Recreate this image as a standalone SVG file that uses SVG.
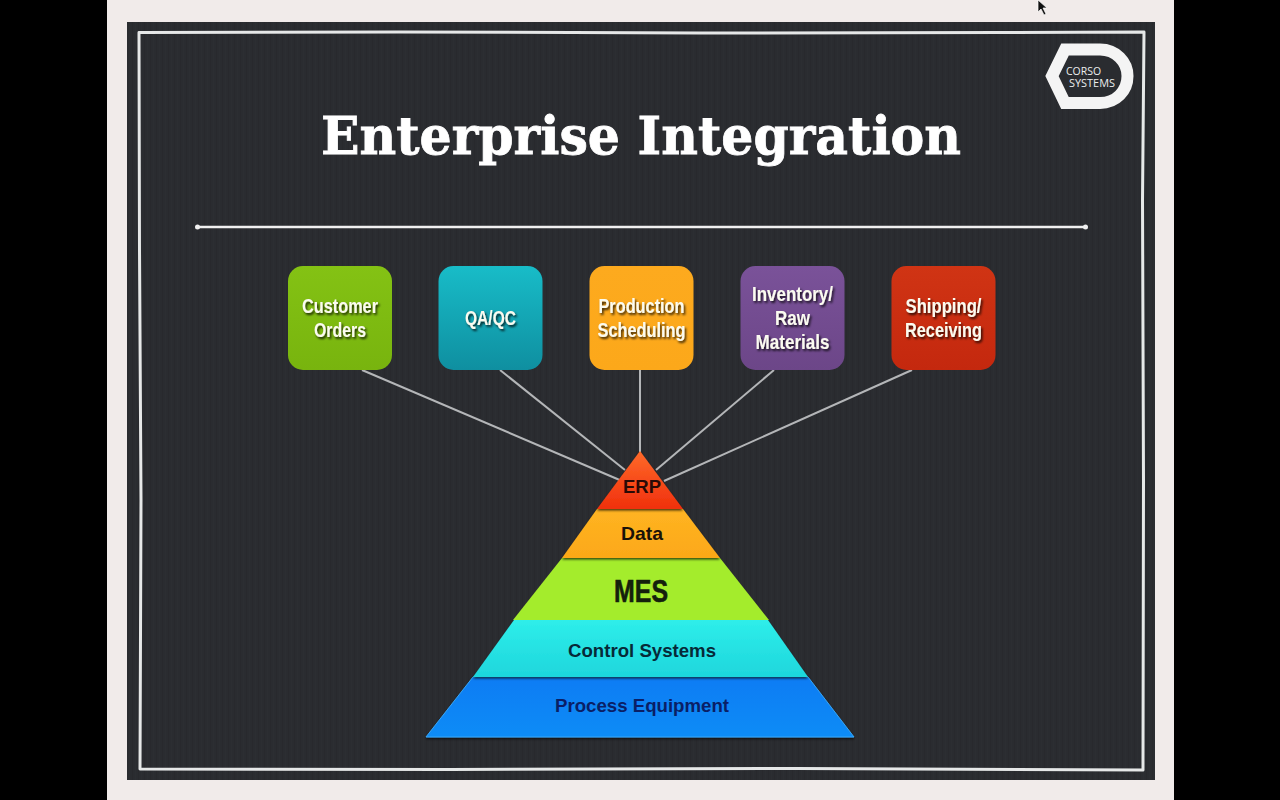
<svg xmlns="http://www.w3.org/2000/svg" width="1280" height="800" viewBox="0 0 1280 800">
<style>
.tile{stroke:none}
.lbl{font-family:"Liberation Sans",Arial,sans-serif;font-weight:700;font-size:20.5px;fill:#fbfbf0;text-anchor:middle;filter:url(#ts)}
.lay{font-family:"Liberation Sans",Arial,sans-serif;font-weight:700;text-anchor:middle}
.conn{stroke:#b4b6b8;stroke-width:2;fill:none}
</style>
<defs>
<filter id="ts" x="-20%" y="-20%" width="140%" height="150%"><feDropShadow dx="1.5" dy="2" stdDeviation="0.8" flood-color="#000" flood-opacity="0.8"/></filter>
<filter id="bs" x="-10%" y="-10%" width="120%" height="130%"><feDropShadow dx="0" dy="1.5" stdDeviation="1" flood-color="#000" flood-opacity="0.7"/></filter>
<pattern id="grain" width="6" height="6" patternUnits="userSpaceOnUse"><rect width="6" height="6" fill="#2a2c30"/><rect x="0" width="1" height="6" fill="#28292d"/><rect x="3" width="1" height="6" fill="#2c2e32"/></pattern>
<linearGradient id="g1" x1="0" y1="0" x2="0" y2="1"><stop offset="0" stop-color="#84c214"/><stop offset="1" stop-color="#78b40e"/></linearGradient>
<linearGradient id="g2" x1="0" y1="0" x2="0" y2="1"><stop offset="0" stop-color="#18bcc8"/><stop offset="1" stop-color="#0f8fa0"/></linearGradient>
<linearGradient id="g3" x1="0" y1="0" x2="0" y2="1"><stop offset="0" stop-color="#fdaa1e"/><stop offset="1" stop-color="#fca81a"/></linearGradient>
<linearGradient id="g4" x1="0" y1="0" x2="0" y2="1"><stop offset="0" stop-color="#7a5299"/><stop offset="1" stop-color="#6c4688"/></linearGradient>
<linearGradient id="g5" x1="0" y1="0" x2="0" y2="1"><stop offset="0" stop-color="#d03414"/><stop offset="1" stop-color="#c4280e"/></linearGradient>
<linearGradient id="p1" x1="0" y1="0" x2="0" y2="1"><stop offset="0" stop-color="#ff6a2a"/><stop offset="1" stop-color="#f0300c"/></linearGradient>
<linearGradient id="p2" x1="0" y1="0" x2="0" y2="1"><stop offset="0" stop-color="#ffb422"/><stop offset="1" stop-color="#fca818"/></linearGradient>
<linearGradient id="p4" x1="0" y1="0" x2="0" y2="1"><stop offset="0" stop-color="#2eeeea"/><stop offset="1" stop-color="#1ed6dc"/></linearGradient>
<linearGradient id="p5" x1="0" y1="0" x2="0" y2="1"><stop offset="0" stop-color="#0a7cf4"/><stop offset="1" stop-color="#0f8cf6"/></linearGradient>
</defs>

<rect width="1280" height="800" fill="#000"/>
<rect x="107" y="0" width="1067" height="800" fill="#f1ebea"/>
<rect x="127" y="22" width="1028" height="758" fill="url(#grain)"/>
<path d="M139 32.500L400 32L700 33L1000 32.500L1144 32L1142.500 200L1143.500 480L1143 770L800 768.500L450 769.500L140 769L141 500L139.500 250Z" fill="none" stroke="#e6e8e8" stroke-width="3" stroke-linejoin="round"/>

<text x="641" y="154" font-family="'DejaVu Serif','Liberation Serif',serif" font-weight="700" font-size="53" fill="#fff" stroke="#fff" stroke-width="0.8" text-anchor="middle" textLength="640" lengthAdjust="spacingAndGlyphs">Enterprise Integration</text>
<line x1="197" y1="227" x2="1086" y2="227" stroke="#f0f0f0" stroke-width="2.5" stroke-linecap="round"/>
<circle cx="197.500" cy="227" r="2.500" fill="#f0f0f0"/>
<circle cx="1085.500" cy="227" r="2.500" fill="#f0f0f0"/>

<g id="logo">
<path d="M1065 49.500H1100C1116 49.500 1127.500 62 1127.500 76C1127.500 91 1116 103 1100 103H1065L1052 76Z" fill="#2a2c30" stroke="#f4f4f4" stroke-width="12" stroke-linejoin="miter"/>
<text x="1066" y="74.500" font-family="'Open Sans','Liberation Sans',sans-serif" font-size="10.500" fill="#eceeee" textLength="35" lengthAdjust="spacingAndGlyphs">CORSO</text>
<text x="1069" y="86.500" font-family="'Open Sans','Liberation Sans',sans-serif" font-size="10.500" fill="#eceeee" textLength="46" lengthAdjust="spacingAndGlyphs">SYSTEMS</text>
</g>

<g id="connectors">
<line class="conn" x1="362" y1="370" x2="622" y2="481"/>
<line class="conn" x1="500" y1="370" x2="625" y2="470"/>
<line class="conn" x1="640" y1="370" x2="640" y2="452"/>
<line class="conn" x1="774" y1="370" x2="656" y2="470"/>
<line class="conn" x1="912" y1="370" x2="664" y2="481"/>
</g>

<g id="node-customer-orders">
<rect class="tile" x="288" y="266" width="104" height="104" rx="15" fill="url(#g1)"/>
<text class="lbl" x="340" y="313" textLength="76" lengthAdjust="spacingAndGlyphs">Customer</text>
<text class="lbl" x="340" y="337" textLength="52" lengthAdjust="spacingAndGlyphs">Orders</text>
</g>
<g id="node-qa-qc">
<rect class="tile" x="438.500" y="266" width="104" height="104" rx="15" fill="url(#g2)"/>
<text class="lbl" x="490.500" y="325" textLength="51" lengthAdjust="spacingAndGlyphs">QA/QC</text>
</g>
<g id="node-production-scheduling">
<rect class="tile" x="589.500" y="266" width="104" height="104" rx="15" fill="url(#g3)"/>
<text class="lbl" x="641.500" y="313" textLength="86" lengthAdjust="spacingAndGlyphs">Production</text>
<text class="lbl" x="641.500" y="337" textLength="88" lengthAdjust="spacingAndGlyphs">Scheduling</text>
</g>
<g id="node-inventory">
<rect class="tile" x="740.500" y="266" width="104" height="104" rx="15" fill="url(#g4)"/>
<text class="lbl" x="792.500" y="301" textLength="81" lengthAdjust="spacingAndGlyphs">Inventory/</text>
<text class="lbl" x="792.500" y="325" textLength="35" lengthAdjust="spacingAndGlyphs">Raw</text>
<text class="lbl" x="792.500" y="349" textLength="74" lengthAdjust="spacingAndGlyphs">Materials</text>
</g>
<g id="node-shipping">
<rect class="tile" x="891.500" y="266" width="104" height="104" rx="15" fill="url(#g5)"/>
<text class="lbl" x="943.500" y="313" textLength="76" lengthAdjust="spacingAndGlyphs">Shipping/</text>
<text class="lbl" x="943.500" y="337" textLength="77" lengthAdjust="spacingAndGlyphs">Receiving</text>
</g>

<g id="layer-process">
<polygon points="473,677 808,677 854,737 426,737" fill="url(#p5)" stroke="#36a6f8" stroke-width="1" filter="url(#bs)"/>
<text class="lay" x="642" y="712" font-size="18.500" fill="#0a1f66" textLength="174" lengthAdjust="spacingAndGlyphs">Process Equipment</text>
</g>
<g id="layer-control">
<polygon points="514,620 768,620 808,677 473,677" fill="url(#p4)" filter="url(#bs)"/>
<text class="lay" x="642" y="657" font-size="18.500" fill="#062a38" textLength="148" lengthAdjust="spacingAndGlyphs">Control Systems</text>
</g>
<g id="layer-mes">
<polygon points="562,558 720,558 769,620 513,620" fill="#a4ec2c"/>
<text class="lay" x="641" y="602" font-size="32" fill="#14200c" stroke="#14200c" stroke-width="0.6" textLength="54" lengthAdjust="spacingAndGlyphs">MES</text>
</g>
<g id="layer-data">
<polygon points="597,509 683,509 720,558 562,558" fill="url(#p2)" filter="url(#bs)"/>
<text class="lay" x="642" y="540" font-size="18.500" fill="#1a1208" textLength="42" lengthAdjust="spacingAndGlyphs">Data</text>
</g>
<g id="layer-erp">
<polygon points="640,451 683,509 597,509" fill="url(#p1)" filter="url(#bs)"/>
<text class="lay" x="642" y="493" font-size="18.500" fill="#2a0a06" textLength="38" lengthAdjust="spacingAndGlyphs">ERP</text>
</g>

<polygon points="1038,0 1038,12 1041,9 1044,15 1046,14 1043,8 1047,8" fill="#111" stroke="#fff" stroke-width="0.7"/>
</svg>
